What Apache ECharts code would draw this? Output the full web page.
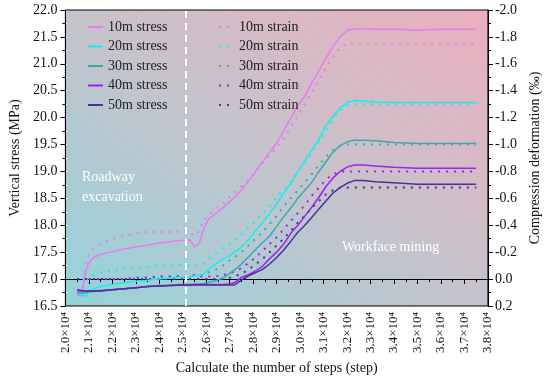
<!DOCTYPE html>
<html>
<head>
<meta charset="utf-8">
<script src="https://cdn.jsdelivr.net/npm/echarts@6/dist/echarts.min.js"></script>
<style>html,body{margin:0;padding:0;background:#fff;}#c{width:550px;height:380px;}</style>
</head>
<body>
<div id="c"></div>
<script>
// ---- data (x: calculation steps; stress in MPa; strain in ‰) ----
const steps = [20500,20700,20800,20900,21000,21200,21500,22000,22500,23000,23500,24000,24500,25000,25300,25500,25700,25900,26100,26400,26700,27000,27200,27500,27800,28100,28400,28700,29000,29300,29600,29900,30200,30500,30800,31100,31400,31700,32000,32300,32700,33200,34000,35000,36000,37000,37500];

const stress10 = [16.70,16.69,17.00,17.20,17.30,17.40,17.46,17.51,17.56,17.60,17.63,17.67,17.70,17.72,17.73,17.60,17.66,17.95,18.12,18.22,18.32,18.44,18.52,18.66,18.82,19.00,19.18,19.36,19.53,19.75,19.99,20.22,20.40,20.65,20.87,21.10,21.32,21.50,21.62,21.65,21.65,21.64,21.64,21.63,21.64,21.64,21.64];
const stress20 = [16.73,16.72,16.68,16.70,16.76,16.82,16.86,16.90,16.93,16.96,16.98,17.00,17.02,17.04,17.05,17.06,17.07,17.10,17.18,17.28,17.37,17.43,17.50,17.60,17.73,17.90,18.05,18.22,18.40,18.60,18.78,18.99,19.20,19.40,19.60,19.85,20.02,20.18,20.28,20.32,20.31,20.29,20.28,20.28,20.28,20.28,20.28];
const stress30 = [16.75,16.74,16.74,16.75,16.76,16.77,16.78,16.80,16.82,16.84,16.86,16.88,16.89,16.90,16.90,16.91,16.91,16.92,16.94,16.97,17.02,17.10,17.17,17.28,17.41,17.55,17.68,17.80,17.98,18.16,18.32,18.50,18.65,18.80,19.00,19.18,19.36,19.48,19.55,19.58,19.58,19.57,19.54,19.52,19.52,19.52,19.52];
const stress40 = [16.78,16.78,16.78,16.78,16.78,16.78,16.79,16.80,16.82,16.84,16.86,16.87,16.88,16.89,16.89,16.90,16.90,16.90,16.90,16.90,16.90,16.91,16.93,17.03,17.08,17.15,17.24,17.38,17.50,17.65,17.85,18.00,18.17,18.34,18.52,18.72,18.88,19.00,19.08,19.12,19.12,19.10,19.08,19.06,19.06,19.06,19.06];
const stress50 = [16.80,16.79,16.78,16.78,16.78,16.78,16.78,16.80,16.82,16.84,16.86,16.87,16.88,16.89,16.89,16.89,16.89,16.89,16.89,16.89,16.89,16.89,16.89,16.98,17.06,17.12,17.18,17.28,17.40,17.54,17.70,17.87,18.00,18.15,18.30,18.45,18.60,18.70,18.78,18.83,18.83,18.81,18.79,18.76,18.76,18.76,18.76];

const strain10 = [0.11,0.08,-0.02,-0.12,-0.18,-0.23,-0.26,-0.30,-0.32,-0.34,-0.35,-0.35,-0.35,-0.36,-0.35,-0.32,-0.36,-0.44,-0.48,-0.52,-0.56,-0.61,-0.64,-0.69,-0.74,-0.80,-0.86,-0.92,-0.98,-1.05,-1.13,-1.22,-1.30,-1.39,-1.48,-1.57,-1.65,-1.72,-1.75,-1.75,-1.75,-1.75,-1.75,-1.75,-1.75,-1.75,-1.75];
const strain20 = [null,null,null,0.01,-0.01,-0.03,-0.05,-0.06,-0.08,-0.08,-0.09,-0.10,-0.10,-0.11,-0.10,-0.10,-0.10,-0.12,-0.15,-0.19,-0.23,-0.26,-0.29,-0.33,-0.38,-0.43,-0.49,-0.54,-0.61,-0.67,-0.73,-0.80,-0.87,-0.94,-1.02,-1.10,-1.18,-1.25,-1.29,-1.30,-1.30,-1.30,-1.30,-1.30,-1.30,-1.30,-1.30];
const strain30 = [null,null,null,null,0.00,0.00,0.00,0.00,0.00,-0.01,-0.01,-0.02,-0.02,-0.02,-0.02,-0.03,-0.03,-0.03,-0.05,-0.07,-0.10,-0.14,-0.16,-0.20,-0.25,-0.30,-0.35,-0.41,-0.47,-0.54,-0.60,-0.66,-0.72,-0.78,-0.85,-0.91,-0.96,-0.99,-1.00,-1.00,-1.00,-1.00,-1.00,-1.00,-1.00,-1.00,-1.00];
const strain40 = [null,null,null,null,0.00,0.00,0.00,0.00,0.00,-0.01,-0.01,-0.02,-0.02,-0.02,-0.02,-0.03,-0.02,-0.02,-0.02,-0.02,-0.03,-0.04,-0.06,-0.08,-0.12,-0.16,-0.21,-0.26,-0.31,-0.37,-0.43,-0.49,-0.55,-0.62,-0.68,-0.74,-0.78,-0.80,-0.80,-0.80,-0.80,-0.80,-0.80,-0.80,-0.80,-0.80,-0.80];
const strain50 = [0.00,0.00,0.00,0.00,0.00,0.00,0.00,0.00,0.00,0.00,0.00,0.00,0.00,0.00,0.00,0.00,0.00,0.00,0.00,0.00,0.00,-0.01,-0.02,-0.04,-0.07,-0.11,-0.15,-0.20,-0.25,-0.30,-0.36,-0.42,-0.47,-0.53,-0.58,-0.63,-0.66,-0.68,-0.68,-0.68,-0.68,-0.68,-0.68,-0.68,-0.68,-0.68,-0.68];

const stressNames = ['10m stress','20m stress','30m stress','40m stress','50m stress'];
const strainNames = ['10m strain','20m strain','30m strain','40m strain','50m strain'];
const excavationEnd = 25130;

// ---- styling ----
const colors = ['#e67af0','#14efe9','#3aa9ab','#a020f0','#46329a'];
const FONT = '"Liberation Serif", "DejaVu Serif", serif';

function pairs(arr){ return steps.map((x,i)=>[x,arr[i]]).filter(d=>d[1]!==null); }
function mk(name, arr, color, dotted){
  return {
    name, type:'line', yAxisIndex: dotted?1:0, data: pairs(arr),
    showSymbol:false, symbol:'none', smooth:false, z: dotted?2:3,
    lineStyle:{color, width: dotted?2:1.5, type: dotted?[2,6]:'solid', cap:'butt'},
    itemStyle:{color}
  };
}
const stressArr=[stress10,stress20,stress30,stress40,stress50];
const strainArr=[strain10,strain20,strain30,strain40,strain50];
const series=[];
stressArr.forEach((a,i)=>series.push(mk(stressNames[i],a,colors[i],false)));
strainArr.forEach((a,i)=>series.push(mk(strainNames[i],a,colors[i],true)));
series[0].markLine = {
  silent:true, symbol:'none', label:{show:false},
  lineStyle:{color:'#ffffff', width:2, type:[7,5]},
  data:[{xAxis: excavationEnd}]
};

const chart = echarts.init(document.getElementById('c'), null, {renderer:'canvas'});
const axisCommon = {
  axisLine:{show:true, lineStyle:{color:'#000', width:1}},
  axisTick:{show:true, inside:false, length:5, lineStyle:{color:'#000'}},
  minorTick:{show:true, splitNumber:2, length:3, lineStyle:{color:'#000'}},
  splitLine:{show:false},
  axisLabel:{color:'#111', fontFamily:FONT, fontSize:14},
  nameTextStyle:{color:'#111', fontFamily:FONT, fontSize:14}
};
const legendCommon = {orient:'vertical', top:15, itemWidth:15, itemHeight:14, itemGap:5.5,
  itemStyle:{opacity:0}, textStyle:{fontFamily:FONT, fontSize:14, color:'#222'}};
chart.setOption({
  animation:false,
  textStyle:{fontFamily:FONT},
  grid:{left:56, right:52, top:10, bottom:70, show:true, borderColor:'#000', borderWidth:1,
    backgroundColor: new echarts.graphic.LinearGradient(137,365,416,-45,[
      {offset:0,color:'#93d3da'},{offset:0.5,color:'#c5c3cc'},{offset:1,color:'#ecaebd'}], true)},
  legend:[
    Object.assign({data:stressNames, left:82}, legendCommon),
    Object.assign({data:strainNames, left:213}, legendCommon)
  ],
  xAxis:Object.assign({}, axisCommon, {
    type:'value', min:20000, max:38000, interval:1000,
    name:'Calculate the number of steps (step)', nameLocation:'middle', nameGap:50,
    axisLabel:Object.assign({}, axisCommon.axisLabel, {rotate:90, fontSize:13, margin:6,
      formatter:v=>(v/10000).toFixed(1)+'×10⁴'})
  }),
  yAxis:[
    Object.assign({}, axisCommon, {
      type:'value', min:16.5, max:22.0, interval:0.5,
      name:'Vertical stress (MPa)', nameLocation:'middle', nameGap:38,
      axisLabel:Object.assign({}, axisCommon.axisLabel, {formatter:v=>v.toFixed(1)})
    }),
    Object.assign({}, axisCommon, {
      type:'value', min:-2.0, max:0.2, interval:0.2, inverse:true, position:'right',
      name:'Compression deformation (‰)', nameLocation:'middle', nameGap:34, nameRotate:90,
      axisLabel:Object.assign({}, axisCommon.axisLabel, {margin:7, formatter:v=>(Math.abs(v)<1e-9?0:v).toFixed(1)})
    })
  ],
  graphic:[
    {type:'text', left:82, top:170, style:{text:'Roadway', fill:'#fff', font:'14px '+FONT}},
    {type:'text', left:82, top:190, style:{text:'excavation', fill:'#fff', font:'14px '+FONT}},
    {type:'text', left:342, top:240, style:{text:'Workface mining', fill:'#fff', font:'14px '+FONT}}
  ],
  series
});
</script>
</body>
</html>
